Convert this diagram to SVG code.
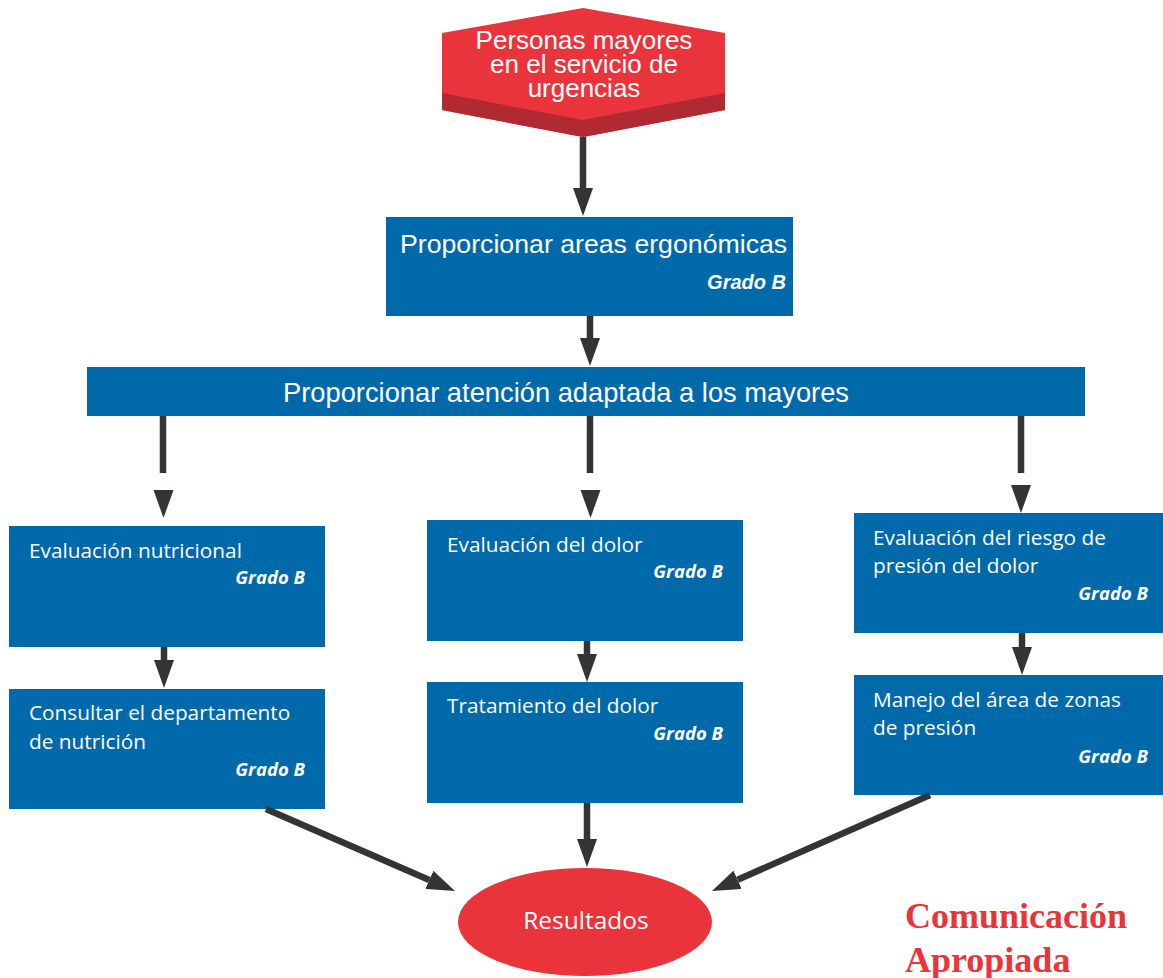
<svg xmlns="http://www.w3.org/2000/svg" width="1163" height="978" viewBox="0 0 1163 978">
<style>
.box{fill:#0069AA}
.red{fill:#E9343B}
.dark{fill:#B12A31}
.arial{font-family:"Liberation Sans",Arial,sans-serif;fill:#fff}
.os{font-family:"Open Sans","DejaVu Sans",sans-serif;fill:#fff;font-size:20.8px}
.grado{font-family:"Open Sans","DejaVu Sans",sans-serif;fill:#fff;font-size:18.5px;font-weight:bold;font-style:italic;text-anchor:end}
.conn{stroke:#353334;stroke-width:6.5;fill:none}
.head{fill:#353334}
.title{font-family:"Liberation Serif","Times New Roman",serif;font-weight:bold;font-size:36px;fill:#E9343B}
</style>
<defs>
<marker id="arr" markerUnits="userSpaceOnUse" viewBox="0 0 28 20" markerWidth="28" markerHeight="20" refX="0" refY="10" orient="auto">
<path d="M0,0 L28,10 L0,20 Z" fill="#353334"/>
</marker>
<path id="dhead" d="M-10,-28 L10,-28 L0,0 Z"/>
</defs>
<rect width="1163" height="978" fill="#fff"/>

<g id="n-personas">
<polygon class="red" points="583,8 725,33 725,110 583,137 442,110 442,33"/>
<polygon class="dark" points="442,93 583,120 725,93 725,110 583,137 442,110"/>
<text class="arial" font-size="26" text-anchor="middle"><tspan x="584" y="49">Personas mayores</tspan><tspan x="584" y="73">en el servicio de</tspan><tspan x="584" y="97">urgencias</tspan></text>
</g>

<g id="n-ergonomicas">
<rect class="box" x="386" y="217" width="407" height="99"/>
<text class="arial" x="400" y="253" font-size="26.7">Proporcionar areas ergonómicas</text>
<text class="arial" x="786" y="289" font-size="20" font-weight="bold" font-style="italic" text-anchor="end">Grado B</text>
</g>

<g id="n-atencion">
<rect class="box" x="87" y="367" width="998" height="49"/>
<text class="arial" x="283" y="402" font-size="27.3">Proporcionar atención adaptada a los mayores</text>
</g>

<g id="n-eval-nutri">
<rect class="box" x="9" y="526" width="316" height="121"/>
<text class="os" x="29" y="558">Evaluación nutricional</text>
<text class="grado" x="305" y="584">Grado B</text>
</g>

<g id="n-consultar">
<rect class="box" x="9" y="689" width="316" height="120"/>
<text class="os"><tspan x="29" y="720">Consultar el departamento</tspan><tspan x="29" y="749">de nutrición</tspan></text>
<text class="grado" x="305" y="776">Grado B</text>
</g>

<g id="n-eval-dolor">
<rect class="box" x="427" y="520" width="316" height="121"/>
<text class="os" x="447" y="552">Evaluación del dolor</text>
<text class="grado" x="723" y="578">Grado B</text>
</g>

<g id="n-trat-dolor">
<rect class="box" x="427" y="682" width="316" height="121"/>
<text class="os" x="447" y="713">Tratamiento del dolor</text>
<text class="grado" x="723" y="740">Grado B</text>
</g>

<g id="n-eval-riesgo">
<rect class="box" x="854" y="513" width="309" height="120"/>
<text class="os"><tspan x="873" y="545">Evaluación del riesgo de</tspan><tspan x="873" y="573">presión del dolor</tspan></text>
<text class="grado" x="1148" y="600">Grado B</text>
</g>

<g id="n-manejo">
<rect class="box" x="854" y="675" width="309" height="120"/>
<text class="os"><tspan x="873" y="707">Manejo del área de zonas</tspan><tspan x="873" y="735">de presión</tspan></text>
<text class="grado" x="1148" y="763">Grado B</text>
</g>

<g id="n-resultados">
<ellipse class="red" cx="585" cy="922" rx="127" ry="54"/>
<text class="os" x="586" y="929" style="font-size:24.5px" text-anchor="middle">Resultados</text>
</g>

<g id="n-comunicacion">
<text class="title"><tspan x="905" y="928">Comunicación</tspan><tspan x="905" y="972">Apropiada</tspan></text>
</g>

<g id="connectors">
<line class="conn" x1="583" y1="137" x2="583" y2="188" marker-end="url(#arr)"/>
<line class="conn" x1="590" y1="316" x2="590" y2="338" marker-end="url(#arr)"/>
<line class="conn" x1="163" y1="416" x2="163" y2="473"/>
<use href="#dhead" class="head" transform="translate(163.5,518)"/>
<line class="conn" x1="590" y1="416" x2="590" y2="473"/>
<use href="#dhead" class="head" transform="translate(590.5,518)"/>
<line class="conn" x1="1021" y1="416" x2="1021" y2="473"/>
<use href="#dhead" class="head" transform="translate(1021,513)"/>
<line class="conn" x1="164" y1="647" x2="164" y2="660" marker-end="url(#arr)"/>
<line class="conn" x1="587" y1="641" x2="587" y2="654" marker-end="url(#arr)"/>
<line class="conn" x1="1022" y1="633" x2="1022" y2="647" marker-end="url(#arr)"/>
<line class="conn" x1="587" y1="803" x2="587" y2="839" marker-end="url(#arr)"/>
<line class="conn" x1="266" y1="809" x2="429.3" y2="879.9" marker-end="url(#arr)"/>
<line class="conn" x1="930" y1="795" x2="737.6" y2="879.7" marker-end="url(#arr)"/>
</g>
</svg>
